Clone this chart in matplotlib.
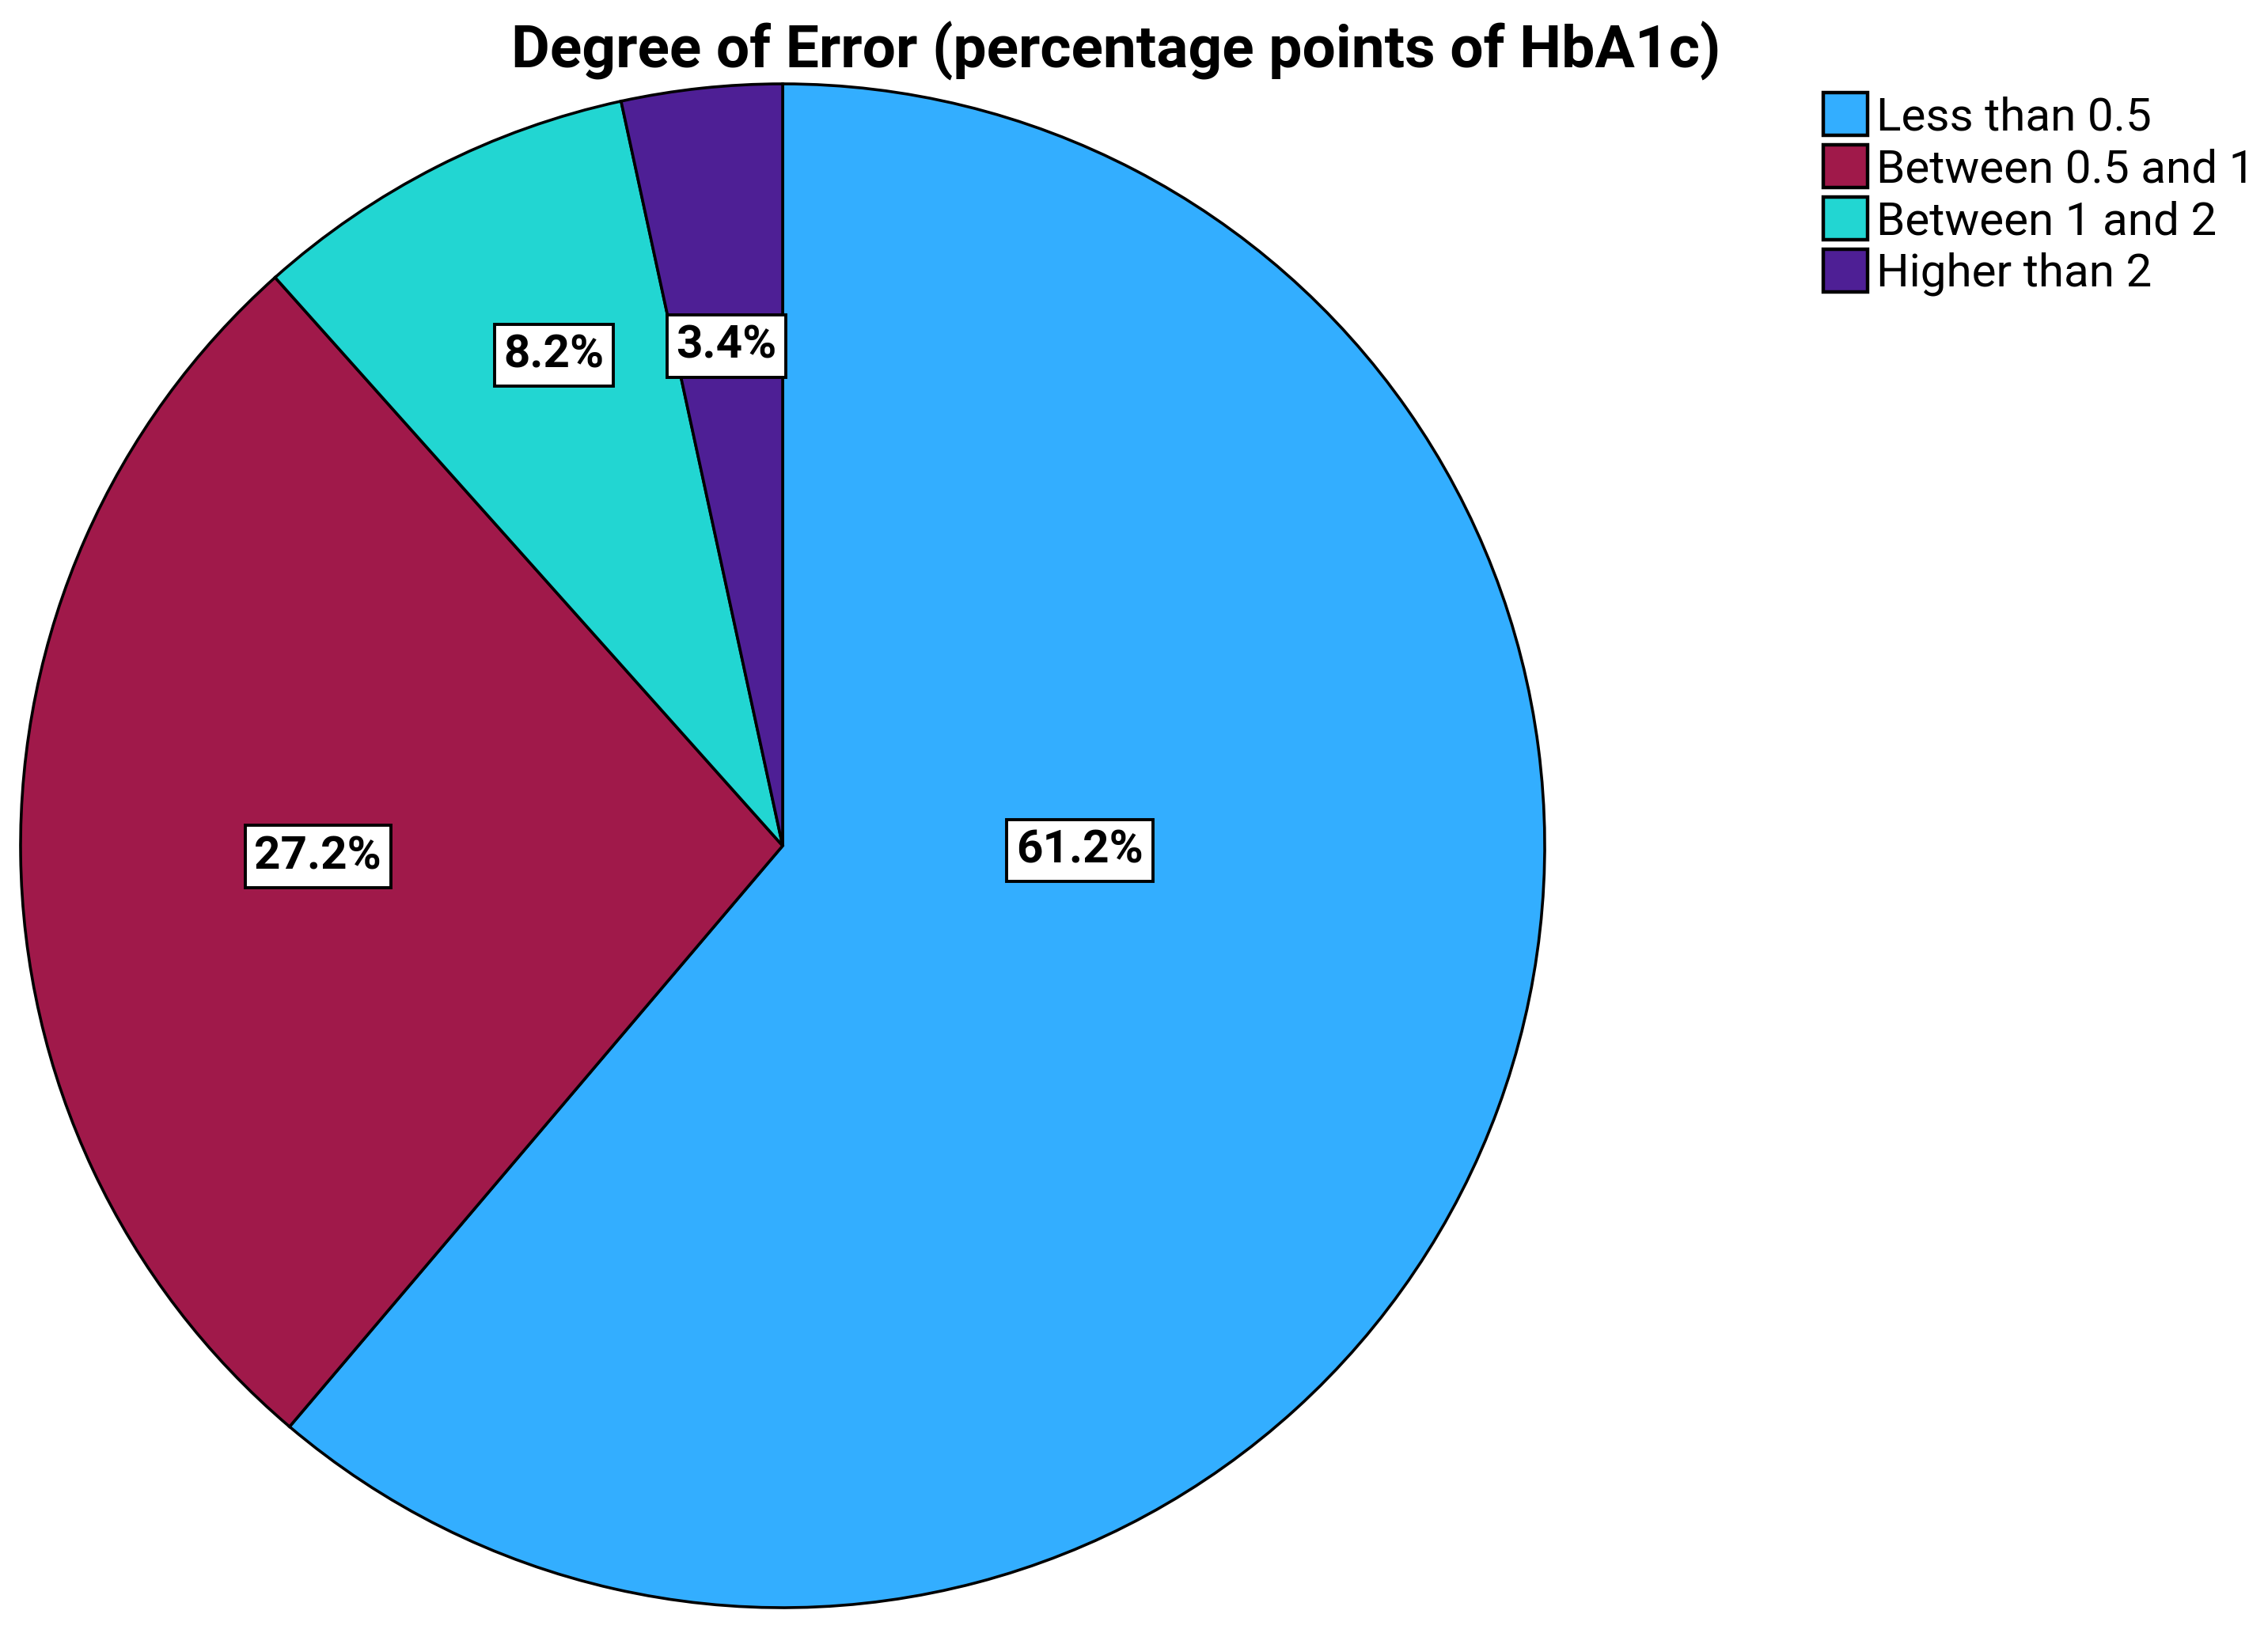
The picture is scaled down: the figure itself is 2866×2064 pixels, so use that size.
import numpy as np
import matplotlib
matplotlib.use('Agg')
import matplotlib.pyplot as plt

# Data
categories = ['Less than 0.5', 'Between 0.5 and 1', 'Between 1 and 2', 'Higher than 2']
percentages = [61.2, 27.2, 8.2, 3.4]
colors = ['#33aeff', '#a0194a', '#22d6d2', '#4e1f95']

# label placement (fraction of radius, angle shift in degrees from slice middle)
label_radius = [0.39, 0.61, 0.71, 0.66]
label_shift = [19.2, 0.6, -2.0, 0.3]

plt.rcParams['font.family'] = ['Roboto', 'DejaVu Sans']

W, H, DPI = 2866, 2064, 200
fig = plt.figure(figsize=(W / DPI, H / DPI), dpi=DPI)
fig.patch.set_facecolor('white')

# pie center and radius in pixels
cx, cy, r = 989, 2064 - 1069, 963
ax = fig.add_axes([(cx - r) / W, (cy - r) / H, 2 * r / W, 2 * r / H])

wedges, _ = ax.pie(percentages, colors=colors, startangle=90, counterclock=False,
                   wedgeprops={'linewidth': 1.3, 'edgecolor': 'black'})
ax.set_xlim(-1, 1)
ax.set_ylim(-1, 1)
ax.set_aspect('auto')
ax.axis('off')

for w, pct, lr, sh in zip(wedges, percentages, label_radius, label_shift):
    mid = np.deg2rad((w.theta1 + w.theta2) / 2 + sh)
    ax.text(lr * np.cos(mid), lr * np.sin(mid), f'{pct:.1f}%',
            ha='center', va='center', fontsize=21, fontweight='bold',
            bbox=dict(boxstyle='square,pad=0.2', fc='white', ec='black', lw=1.4))

fig.text(1410 / W, 1 - 64 / H, 'Degree of Error (percentage points of HbA1c)',
         ha='center', va='center', fontsize=27, fontweight='bold')

leg = fig.legend(wedges, categories, loc='upper left',
                 bbox_to_anchor=(2275 / W, 1 - 88 / H), frameon=False,
                 fontsize=21, handlelength=0.95, handleheight=1.05,
                 handletextpad=0.2, labelspacing=0.12, borderpad=0)
for p in leg.get_patches():
    p.set_linewidth(1.6)

fig.savefig('out.png', dpi=DPI)
